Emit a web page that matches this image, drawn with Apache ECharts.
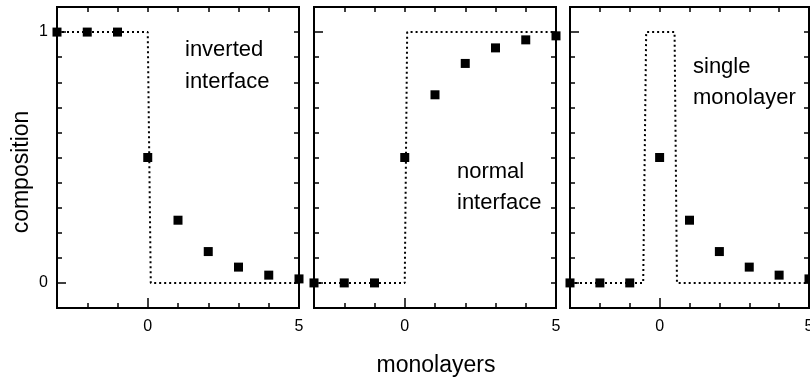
<!DOCTYPE html>
<html>
<head>
<meta charset="utf-8">
<script src="https://cdn.jsdelivr.net/npm/echarts@6/dist/echarts.min.js"></script>
<style>
  html, body { margin: 0; padding: 0; background: #fff; }
  #chart { width: 810px; height: 384px; }
</style>
</head>
<body>
<div id="chart"></div>
<script>
// Monolayer positions relative to the interface
const monolayers = [-3, -2, -1, 0, 1, 2, 3, 4, 5];

// Measured composition profiles
const invertedComp = [1, 1, 1, 0.5, 0.25, 0.125, 0.063, 0.031, 0.016];
const normalComp   = [0, 0, 0, 0.5, 0.75, 0.875, 0.937, 0.969, 0.985];
const singleComp   = [0, 0, 0, 0.5, 0.25, 0.125, 0.063, 0.031, 0.016];

// Ideal (abrupt) profiles
const invertedStepX = [-3, 0, 0.1, 5];
const invertedStepY = [1, 1, 0, 0];
const normalStepX   = [-3, 0, 0.08, 5];
const normalStepY   = [0, 0, 1, 1];
const singleStepX   = [-3, -0.55, -0.45, 0.5, 0.58, 5];
const singleStepY   = [0, 0, 1, 1, 0, 0];

// Axis ranges and labelled ticks
const xRange = [-3, 5];
const yRange = [-0.1, 1.1];
const xTickLabels = [0, 5];
const yTickLabels = [0, 1];

const panels = [
  { comp: invertedComp, stepX: invertedStepX, stepY: invertedStepY, left: 57,  width: 242, yLabels: true },
  { comp: normalComp,   stepX: normalStepX,   stepY: normalStepY,   left: 314, width: 242, yLabels: false },
  { comp: singleComp,   stepX: singleStepX,   stepY: singleStepY,   left: 570, width: 239, yLabels: false }
];

const FONT = 'Liberation Sans, Arial, sans-serif';
const grid = [], xAxis = [], yAxis = [], series = [];

panels.forEach((p, g) => {
  grid.push({
    left: p.left, top: 7, width: p.width, height: 301,
    outerBoundsMode: 'none', containLabel: false,
    show: true, borderColor: '#000', borderWidth: 2, backgroundColor: 'transparent'
  });
  const xBase = {
    gridIndex: g, type: 'value', min: xRange[0], max: xRange[1],
    axisLine: { show: false, onZero: false }, splitLine: { show: false }
  };
  const yBase = {
    gridIndex: g, type: 'value', min: yRange[0], max: yRange[1],
    axisLine: { show: false, onZero: false }, splitLine: { show: false }
  };
  const xi = xAxis.length, yi = yAxis.length;
  // bottom: every monolayer
  xAxis.push(Object.assign({}, xBase, {
    position: 'bottom', interval: 1,
    axisTick: { inside: true, length: 5, lineStyle: { color: '#000', width: 1.5 } },
    axisLabel: { show: false }
  }));
  // bottom: labelled ticks
  xAxis.push(Object.assign({}, xBase, {
    position: 'bottom',
    axisTick: { inside: true, length: 10, customValues: xTickLabels, lineStyle: { color: '#000', width: 1.5 } },
    axisLabel: { show: true, customValues: xTickLabels, color: '#000', fontSize: 16, fontFamily: FONT, margin: 11 }
  }));
  // top
  xAxis.push(Object.assign({}, xBase, {
    position: 'top', interval: 1,
    axisTick: { inside: true, length: 5, lineStyle: { color: '#000', width: 1.5 } },
    axisLabel: { show: false }
  }));
  // left: every 0.1
  yAxis.push(Object.assign({}, yBase, {
    position: 'left', interval: 0.1,
    axisTick: { inside: true, length: 5, lineStyle: { color: '#000', width: 1.5 } },
    axisLabel: { show: false }
  }));
  // left: labelled ticks
  yAxis.push(Object.assign({}, yBase, {
    position: 'left',
    axisTick: { inside: true, length: 9, customValues: yTickLabels, lineStyle: { color: '#000', width: 1.5 } },
    axisLabel: { show: p.yLabels, customValues: yTickLabels, color: '#000', fontSize: 16, fontFamily: FONT, margin: 9 }
  }));
  // right
  yAxis.push(Object.assign({}, yBase, {
    position: 'right', interval: 0.1,
    axisTick: { inside: true, length: 5, lineStyle: { color: '#000', width: 1.5 } },
    axisLabel: { show: false }
  }));

  series.push({
    type: 'line', xAxisIndex: xi, yAxisIndex: yi,
    data: p.stepX.map((x, i) => [x, p.stepY[i]]),
    symbol: 'none', silent: true, z: 2,
    lineStyle: { color: '#000', width: 2, type: [2, 3] }
  });
  series.push({
    type: 'scatter', xAxisIndex: xi, yAxisIndex: yi,
    data: monolayers.map((x, i) => [x, p.comp[i]]),
    symbol: 'rect', symbolSize: 9, clip: false, z: 3,
    itemStyle: { color: '#000', opacity: 1 }
  });
});

const txt = (x, y, t) => ({
  type: 'text', x: x, y: y,
  style: { text: t, fill: '#000', font: '22px ' + FONT, textVerticalAlign: 'middle' }
});

const option = {
  animation: false,
  backgroundColor: '#fff',
  grid, xAxis, yAxis, series,
  graphic: [
    txt(185, 50, 'inverted'),
    txt(185, 82, 'interface'),
    txt(457, 172, 'normal'),
    txt(457, 203, 'interface'),
    txt(693, 67, 'single'),
    txt(693, 98, 'monolayer'),
    {
      type: 'text', x: 22, y: 172, rotation: Math.PI / 2,
      style: { text: 'composition', fill: '#000', font: '23px ' + FONT, textAlign: 'center', textVerticalAlign: 'middle' }
    },
    {
      type: 'text', x: 436, y: 366,
      style: { text: 'monolayers', fill: '#000', font: '23px ' + FONT, textAlign: 'center', textVerticalAlign: 'middle' }
    }
  ]
};

echarts.init(document.getElementById('chart'), null, { renderer: 'canvas' }).setOption(option);
</script>
</body>
</html>
